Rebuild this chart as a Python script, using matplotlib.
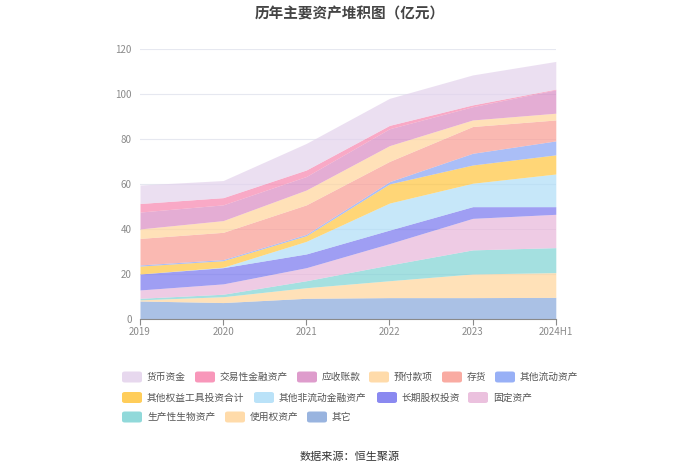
import numpy as np
import matplotlib
matplotlib.use("Agg")
import matplotlib.pyplot as plt
from matplotlib.patches import FancyBboxPatch

plt.rcParams['font.family'] = ['Noto Sans CJK SC', 'DejaVu Sans']

years = ["2019", "2020", "2021", "2022", "2023", "2024H1"]

# bottom of stack first
names = ["其它", "使用权资产", "生产性生物资产", "固定资产", "长期股权投资",
         "其他非流动金融资产", "其他权益工具投资合计", "其他流动资产", "存货",
         "预付款项", "应收账款", "交易性金融资产", "货币资金"]

qita = [8.0, 7.3, 9.2, 9.5, 9.5, 9.6]
shiyongquan = [0.5, 2.6, 4.7, 7.5, 10.5, 11.0]
shengchanxing = [0.7, 1.1, 3.1, 7.0, 10.7, 11.1]
guding = [3.7, 4.6, 5.8, 9.5, 14.0, 14.8]
changqi = [7.1, 7.2, 6.1, 6.0, 5.2, 3.4]
feiliudong_jr = [0.0, 0.2, 5.6, 12.0, 10.4, 14.5]
quanyi = [3.5, 2.9, 2.5, 8.5, 8.1, 8.5]
liudong_qt = [0.5, 0.5, 0.6, 1.0, 5.2, 6.2]
cunhuo = [11.8, 12.1, 13.1, 9.0, 11.9, 9.3]
yufu = [4.2, 5.2, 6.6, 7.0, 2.9, 3.0]
yingshou = [7.5, 7.0, 6.0, 7.5, 5.9, 10.4]
jiaoyi = [3.8, 3.2, 2.9, 1.5, 0.8, 0.3]
huobi = [8.2, 7.6, 11.8, 12.0, 13.3, 12.3]

series = [qita, shiyongquan, shengchanxing, guding, changqi, feiliudong_jr,
          quanyi, liudong_qt, cunhuo, yufu, yingshou, jiaoyi, huobi]

colors = ["#87A7DA", "#FFD59B", "#7ED3D4", "#E8B6D9", "#7675EE",
          "#AEDDF7", "#FFC53D", "#86A3F5", "#F99C92",
          "#FFD59B", "#D98BC3", "#F785AE", "#E3D2EC"]

fig = plt.figure(figsize=(7, 4.74), dpi=100)
ax = fig.add_axes([0.2, 0.327, 0.594, 0.57])

x = np.arange(len(years))
base = np.zeros(len(years))
for vals, c in zip(series, colors):
    top = base + np.array(vals)
    ax.fill_between(x, base, top, color=c, alpha=0.7, linewidth=0)
    base = top

ax.set_xlim(0, len(years) - 1)
ax.set_ylim(0, 120)
ax.set_yticks(range(0, 121, 20))
ax.set_xticks(x)
ax.set_xticklabels(years)
ax.grid(axis='y', color='#E6E8F0', linewidth=0.8)
ax.set_axisbelow(True)
for s in ['left', 'right', 'top']:
    ax.spines[s].set_visible(False)
ax.spines['bottom'].set_color('#8A8A8A')
ax.tick_params(axis='y', length=0, pad=6, labelsize=7, labelcolor='#8A8A8A')
ax.tick_params(axis='x', length=4, color='#8A8A8A', labelsize=7,
               labelcolor='#8A8A8A', pad=2)

fig.text(0.5, 0.972, "历年主要资产堆积图（亿元）", ha='center', va='center',
         fontsize=10.5, fontweight='bold', color='#444444')

# legend, laid out like the original (three rows, top series first)
W, H = 700.0, 474.0
rows = [
    [(12, 122), (11, 195), (10, 297), (9, 369), (8, 442), (7, 495)],
    [(6, 122), (5, 254), (4, 377), (3, 468)],
    [(2, 122), (1, 225), (0, 307)],
]
row_y = [377, 397.5, 417]
for r, items in enumerate(rows):
    yc = 1 - row_y[r] / H
    for idx, px in items:
        fig.patches.append(FancyBboxPatch(
            (px / W, yc - 5.5 / H), 20 / W, 11 / H,
            boxstyle="round,pad=0,rounding_size=0.004",
            transform=fig.transFigure, facecolor=colors[idx],
            edgecolor='none', alpha=0.85))
        fig.text((px + 25) / W, yc, names[idx], ha='left', va='center',
                 fontsize=7, color='#555555')

fig.text(0.5, 1 - 457 / H, "数据来源：恒生聚源", ha='center', va='center',
         fontsize=8, color='#333333')

fig.savefig("out.png", dpi=100)
